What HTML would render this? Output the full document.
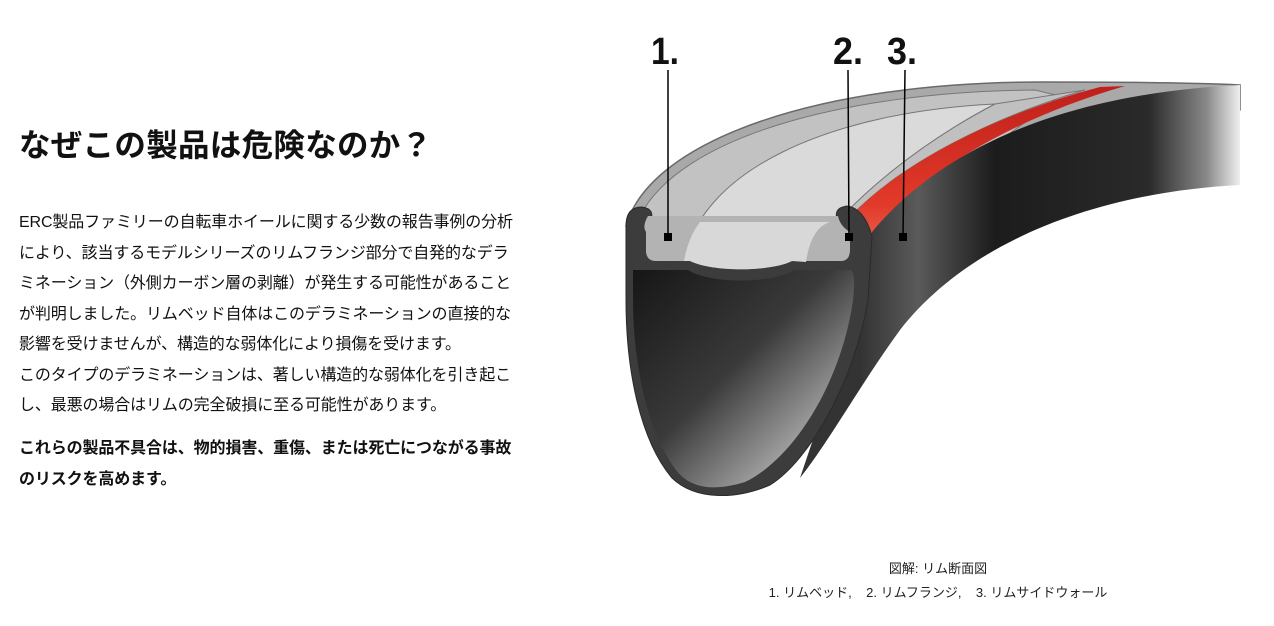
<!DOCTYPE html>
<html><head><meta charset="utf-8"><style>
html,body{margin:0;padding:0;background:#fff;}
body{width:1274px;height:626px;position:relative;overflow:hidden;font-family:"Liberation Sans","Noto Sans CJK JP",sans-serif;color:#111;}
h1{position:absolute;left:19px;top:124px;margin:0;font-size:31.5px;font-weight:bold;line-height:42px;white-space:nowrap;letter-spacing:0.3px;}
.p{position:absolute;left:19px;width:500px;font-size:16px;line-height:30.5px;white-space:nowrap;letter-spacing:-0.12px;}
.cap{position:absolute;left:700px;width:476px;text-align:center;font-size:13px;line-height:24px;color:#222;}
svg{position:absolute;left:0;top:0;}
</style></head><body>
<h1>なぜこの製品は危険なのか？</h1>
<div class="p" style="top:208px">ERC製品ファミリーの自転車ホイールに関する少数の報告事例の分析<br>により、該当するモデルシリーズのリムフランジ部分で自発的なデラ<br>ミネーション（外側カーボン層の剥離）が発生する可能性があること<br>が判明しました。リムベッド自体はこのデラミネーションの直接的な<br>影響を受けませんが、構造的な弱体化により損傷を受けます。<br>このタイプのデラミネーションは、著しい構造的な弱体化を引き起こ<br>し、最悪の場合はリムの完全破損に至る可能性があります。</div>
<div class="p" style="top:434px;font-weight:bold">これらの製品不具合は、物的損害、重傷、または死亡につながる事故<br>のリスクを高めます。</div>
<div class="cap" style="top:557px">図解: リム断面図<br>1. リムベッド,&nbsp;&nbsp;&nbsp;&nbsp;2. リムフランジ,&nbsp;&nbsp;&nbsp;&nbsp;3. リムサイドウォール</div>
<svg width="1274" height="626" viewBox="0 0 1274 626">
<defs>
<linearGradient id="side" x1="860" y1="0" x2="1245" y2="0" gradientUnits="userSpaceOnUse">
<stop offset="0" stop-color="#333"/><stop offset="0.15" stop-color="#5a5a5a"/><stop offset="0.35" stop-color="#1c1c1c"/><stop offset="0.75" stop-color="#2a2a2a"/><stop offset="0.9" stop-color="#888"/><stop offset="1" stop-color="#fff"/></linearGradient>
<linearGradient id="hol" x1="0" y1="0" x2="1" y2="1">
<stop offset="0" stop-color="#161616"/><stop offset="0.45" stop-color="#3a3a3a"/><stop offset="0.8" stop-color="#aaa"/><stop offset="1" stop-color="#f4f4f4"/></linearGradient>
<linearGradient id="red" x1="0" y1="0" x2="0" y2="1">
<stop offset="0" stop-color="#c0201a"/><stop offset="0.6" stop-color="#e23a2a"/><stop offset="1" stop-color="#f08a6a"/></linearGradient>
</defs>
<path d="M626,226 C650,140 820,82 1040,82 C1120,82 1200,83 1240,85 L1240,110 L870,240 Z" fill="#a9a9a9" stroke="#6a6a6a" stroke-width="1.5"/>
<path d="M640,216 C680,138 840,92 1035,90 L1060,96 L872,236 L640,242 Z" fill="#c2c2c2" stroke="#777" stroke-width="1"/>
<path d="M684,262 C700,170 830,112 995,104 C930,138 850,195 806,262 Z" fill="#dadada" stroke="#777" stroke-width="1"/>
<path d="M806,262 C850,195 930,138 995,104 L1085,90 C990,118 900,165 852,215 L850,262 Z" fill="#c0c0c0" stroke="#777" stroke-width="1"/>
<path d="M852,215 C900,165 990,116 1100,87 L1125,86 C1015,118 925,170 874,232 L858,285 Z" fill="url(#red)"/>
<path d="M872,232 C940,150 1060,94 1240,85 L1240,185 C1100,192 970,240 900,330 C860,385 830,440 800,478 L860,300 Z" fill="url(#side)"/>
<path d="M626,226 Q626,207 642,207 Q656,209 650,222 L838,222 Q832,208 847,206 Q864,208 872,236 L868,300 C855,380 810,460 770,485 C735,500 695,500 672,478 C640,440 626,370 626,300 Z" fill="#3c3c3c" stroke="#2a2a2a" stroke-width="1"/>
<path d="M648,216 Q642,226 646,232 L646,252 Q647,261 656,261 L690,261 C712,272 770,272 792,261 L842,261 Q850,260 850,250 L850,232 Q840,226 838,216 Z" fill="#b3b3b3"/>
<path d="M690,261 C712,272 770,272 792,261 L806,262 C810,235 820,225 830,222 L700,222 C690,235 686,250 684,261 Z" fill="#d8d8d8"/>
<path d="M633,270 L688,270 C710,284 772,284 794,270 L851,270 Q856,274 853,300 C842,380 795,458 745,482 C712,492 690,488 676,470 C646,430 633,360 633,300 Z" fill="url(#hol)"/>
<g stroke="#000" stroke-width="1.5">
<line x1="668" y1="70" x2="668" y2="237"/>
<line x1="848" y1="70" x2="849" y2="237"/>
<line x1="905" y1="70" x2="903" y2="237"/>
</g>
<rect x="664" y="233" width="8" height="8"/>
<rect x="845" y="233" width="8" height="8"/>
<rect x="899" y="233" width="8" height="8"/>
<g font-family="'Liberation Sans Narrow','Liberation Sans',sans-serif" font-weight="bold" font-size="38" fill="#111">
<text x="651" y="64" textLength="28" lengthAdjust="spacingAndGlyphs">1.</text>
<text x="833" y="64" textLength="30" lengthAdjust="spacingAndGlyphs">2.</text>
<text x="887" y="64" textLength="30" lengthAdjust="spacingAndGlyphs">3.</text>
</g>
</svg>
</body></html>
